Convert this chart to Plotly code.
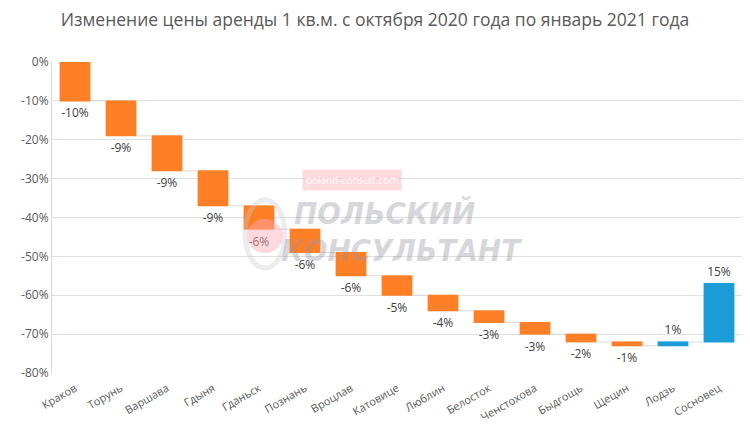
import plotly.graph_objects as go

cities = ["Краков", "Торунь", "Варшава", "Гдыня", "Гданьск", "Познань", "Вроцлав",
          "Катовице", "Люблин", "Белосток", "Ченстохова", "Быдгощь", "Щецин", "Лодзь", "Сосновец"]
changes = [-10, -9, -9, -9, -6, -6, -6, -5, -4, -3, -3, -2, -1, 1, 15]
labels = ["-10%", "-9%", "-9%", "-9%", "-6%", "-6%", "-6%", "-5%", "-4%", "-3%", "-3%", "-2%", "-1%", "1%", "15%"]
yticks = [0, -10, -20, -30, -40, -50, -60, -70, -80]
ytick_text = ["0%", "-10%", "-20%", "-30%", "-40%", "-50%", "-60%", "-70%", "-80%"]

ORANGE = "#FF7F27"
BLUE = "#1B9BD7"

fig = go.Figure(go.Waterfall(
    x=cities,
    y=changes,
    measure=["relative"] * len(changes),
    text=labels,
    textposition="outside",
    textfont=dict(family="Open Sans", size=12, color="#404040"),
    decreasing=dict(marker=dict(color=ORANGE)),
    increasing=dict(marker=dict(color=BLUE)),
    connector=dict(line=dict(color="#D9D9D9", width=1)),
    width=0.67,
    cliponaxis=False,
    hoverinfo="skip",
))

wm_gray = "rgba(150,150,160,0.38)"
fig.update_layout(
    width=750, height=443,
    margin=dict(l=52, r=8, t=62, b=70),
    paper_bgcolor="white", plot_bgcolor="white",
    showlegend=False,
    title=dict(text="Изменение цены аренды 1 кв.м. с октября 2020 года по январь 2021 года",
               x=0.5, xanchor="center", y=0.955, yanchor="middle",
               font=dict(family="Open Sans", size=17.5, color="#595959")),
    xaxis=dict(tickangle=-30, tickfont=dict(family="Open Sans", size=11, color="#595959"),
               showgrid=False, showline=False, ticks="", ticklabelstandoff=6),
    yaxis=dict(range=[-80, 0], tickvals=yticks, ticktext=ytick_text,
               tickfont=dict(family="Open Sans", size=12, color="#595959"),
               showgrid=True, gridcolor="#E0E0E0", gridwidth=1,
               showline=True, linecolor="#D9D9D9", zeroline=False, ticks=""),
    shapes=[
        dict(type="circle", xref="paper", yref="paper", layer="above",
             x0=(245 - 52) / 690, x1=(285 - 52) / 690, y0=(373 - 268) / 311, y1=(373 - 200) / 311,
             line=dict(color="rgba(200,200,205,0.35)", width=5), fillcolor="rgba(0,0,0,0)"),
        dict(type="circle", xref="paper", yref="paper", layer="above",
             x0=(247 - 52) / 690, x1=(283 - 52) / 690, y0=(373 - 253) / 311, y1=(373 - 219) / 311,
             line=dict(width=0), fillcolor="rgba(255,170,185,0.45)"),
    ],
    annotations=[
        dict(x=(352 - 52) / 690, y=(373 - 180) / 311, xref="paper", yref="paper", text="poland-consult.com",
             showarrow=False, bgcolor="rgba(255,185,195,0.55)", borderpad=3,
             font=dict(family="Open Sans", size=10, color="rgba(255,255,255,0.95)")),
        dict(x=(384 - 52) / 690, y=(373 - 213) / 311, xref="paper", yref="paper", text="<b><i>ПОЛЬСКИЙ</i></b>",
             showarrow=False, font=dict(family="DejaVu Sans Condensed", size=31, color=wm_gray)),
        dict(x=(401 - 52) / 690, y=(373 - 250) / 311, xref="paper", yref="paper", text="<b><i>КОНСУЛЬТАНТ</i></b>",
             showarrow=False, font=dict(family="DejaVu Sans Condensed", size=31, color=wm_gray)),
    ],
)

fig.write_html("out.html")
